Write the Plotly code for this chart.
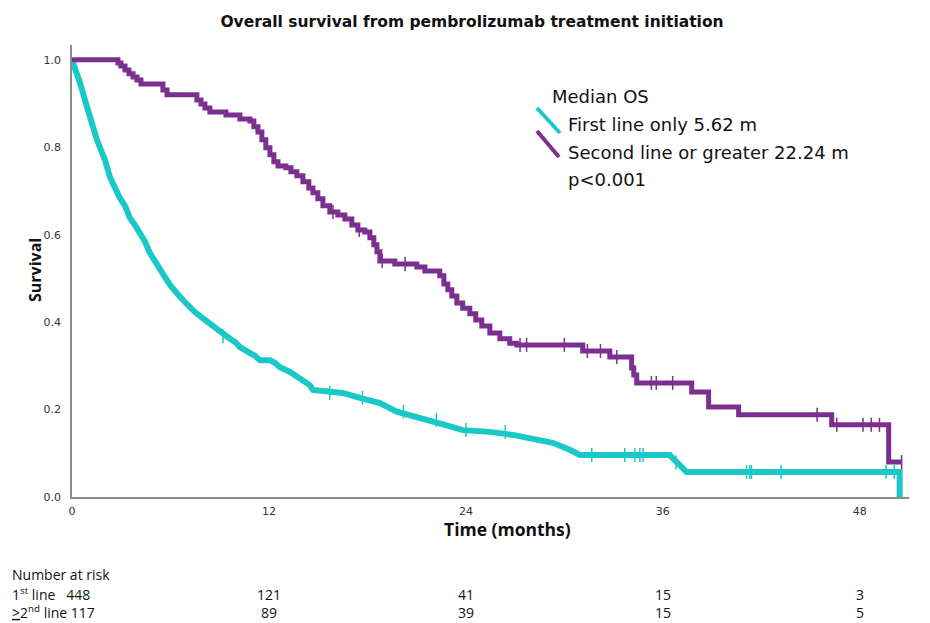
import plotly.graph_objects as go

# ---------------- data ----------------
chart_title = "Overall survival from pembrolizumab treatment initiation"

first_t = [0, 0.24, 0.49, 0.79, 1.10, 1.28, 1.52, 1.71, 2.01, 2.31, 2.62, 2.92, 3.23, 3.53, 3.84,
           4.14, 4.45, 4.75, 5.05, 5.36, 5.66, 5.97, 6.27, 6.58, 6.88, 7.19, 7.49, 7.80, 8.10, 8.40,
           8.71, 9.01, 9.32, 9.62, 9.93, 10.23, 10.54, 10.84, 11.15, 11.45, 12.06, 12.36, 12.67,
           13.28, 13.89, 14.49, 14.68, 16.50, 17.54, 18.76, 19.79, 20.89, 21.80, 22.72, 23.81,
           25.46, 26.86, 28.20, 29.29, 30.33, 30.94, 36.42, 36.72, 37.03, 37.45, 50.43, 50.43]
first_s = [1.0, 0.977, 0.947, 0.908, 0.867, 0.840, 0.817, 0.799, 0.771, 0.732, 0.703, 0.684, 0.666,
           0.638, 0.622, 0.606, 0.584, 0.558, 0.538, 0.519, 0.503, 0.485, 0.469, 0.458, 0.446, 0.432,
           0.423, 0.414, 0.405, 0.396, 0.387, 0.378, 0.368, 0.362, 0.355, 0.343, 0.336, 0.330, 0.323,
           0.313, 0.313, 0.307, 0.297, 0.286, 0.272, 0.256, 0.245, 0.238, 0.227, 0.215, 0.195, 0.185,
           0.176, 0.165, 0.153, 0.149, 0.142, 0.133, 0.124, 0.108, 0.096, 0.096, 0.085, 0.073, 0.057,
           0.057, 0.0]
first_cens_t = [9.2, 15.7, 17.7, 20.2, 22.2, 24.0, 26.4, 31.67, 33.68, 34.3, 34.6, 34.8, 36.8,
                41.1, 41.3, 41.4, 43.2, 49.6, 50.1]
first_cens_s = [0.368, 0.238, 0.227, 0.195, 0.176, 0.153, 0.149, 0.096, 0.096, 0.096, 0.096, 0.096,
                0.079, 0.057, 0.057, 0.057, 0.057, 0.057, 0.057]

second_t = [0, 2.62, 2.80, 2.98, 3.23, 3.47, 3.72, 3.96, 4.20, 5.36, 5.54, 5.79, 7.37, 7.61, 7.86,
            8.10, 8.40, 9.14, 9.38, 9.99, 10.23, 10.84, 11.08, 11.33, 11.57, 11.81, 12.06, 12.30,
            12.55, 13.03, 13.34, 13.70, 14.07, 14.43, 14.68, 14.98, 15.29, 15.71, 16.20, 16.63,
            17.05, 17.42, 17.84, 18.15, 18.39, 18.58, 18.76, 19.67, 21.01, 21.50, 22.41, 22.66,
            22.90, 23.14, 23.45, 23.81, 24.24, 24.60, 24.97, 25.46, 26.07, 26.67, 27.10, 30.94,
            31.12, 32.58, 32.77, 33.98, 34.10, 34.23, 34.41, 37.64, 37.76, 38.67, 38.79, 40.50,
            40.62, 46.16, 46.29, 49.63, 49.76, 50.55]
second_s = [1.0, 1.0, 0.993, 0.986, 0.977, 0.968, 0.961, 0.954, 0.945, 0.945, 0.931, 0.920, 0.920,
            0.908, 0.899, 0.890, 0.881, 0.881, 0.874, 0.874, 0.865, 0.860, 0.847, 0.835, 0.817,
            0.799, 0.783, 0.767, 0.757, 0.753, 0.744, 0.735, 0.721, 0.707, 0.696, 0.682, 0.666,
            0.652, 0.645, 0.636, 0.622, 0.611, 0.606, 0.593, 0.577, 0.561, 0.540, 0.533, 0.526,
            0.517, 0.506, 0.487, 0.474, 0.460, 0.444, 0.432, 0.419, 0.405, 0.391, 0.375, 0.362,
            0.352, 0.348, 0.348, 0.334, 0.334, 0.320, 0.320, 0.295, 0.279, 0.261, 0.261, 0.240,
            0.240, 0.206, 0.206, 0.188, 0.188, 0.165, 0.165, 0.080, 0.080]
second_cens_t = [15.9, 17.5, 18.9, 20.3, 27.3, 27.7, 30.0, 31.4, 32.2, 33.2, 35.3, 35.6, 36.6,
                 45.4, 46.6, 48.2, 48.7, 49.2, 50.55]
second_cens_s = [0.652, 0.611, 0.540, 0.533, 0.348, 0.348, 0.348, 0.334, 0.334, 0.320, 0.261,
                 0.261, 0.261, 0.188, 0.165, 0.165, 0.165, 0.165, 0.080]

x_tick_vals = [0, 12, 24, 36, 48]
y_tick_vals = [0, 0.2, 0.4, 0.6, 0.8, 1.0]
y_tick_text = ["0.0", "0.2", "0.4", "0.6", "0.8", "1.0"]

legend_texts = ["Median OS", "First line only 5.62 m", "Second line or greater 22.24 m", "p&lt;0.001"]

risk_times = [12, 24, 36, 48]
risk_first = [121, 41, 15, 3]
risk_second = [89, 39, 15, 5]
risk_first_start = 448
risk_second_start = 117

CYAN = "#1BC8C8"
PURPLE = "#7C2F8F"

# ---------------- figure ----------------
fig = go.Figure()
fig.add_trace(go.Scatter(x=first_t, y=first_s, mode="lines", line=dict(color=CYAN, width=6, shape="linear"),
                         showlegend=False, hoverinfo="skip"))
fig.add_trace(go.Scatter(x=second_t, y=second_s, mode="lines", line=dict(color=PURPLE, width=5, shape="hv"),
                         showlegend=False, hoverinfo="skip"))
fig.add_trace(go.Scatter(x=first_cens_t, y=first_cens_s, mode="markers",
                         marker=dict(symbol="line-ns", size=10, line=dict(color=CYAN, width=1.5)),
                         showlegend=False, hoverinfo="skip"))
fig.add_trace(go.Scatter(x=second_cens_t, y=second_cens_s, mode="markers",
                         marker=dict(symbol="line-ns", size=10, line=dict(color=PURPLE, width=1.5)),
                         showlegend=False, hoverinfo="skip"))

# the page has an 8px body margin: work in reference pixels, shifted by OFF
OFF = 8
W, H = 930 - OFF, 623 - OFF
L, T = 72 - OFF, 45 - OFF
R = W - (909 - OFF)
B = H - (497 - OFF)
pw, ph = W - L - R, H - T - B


def px(xp):
    return (xp - OFF - L) / pw


def py(yp):
    return (H - B - (yp - OFF)) / ph


fig.update_layout(
    width=W, height=H,
    margin=dict(l=L, r=R, t=T, b=B),
    paper_bgcolor="white", plot_bgcolor="white",
    title=dict(text="<b>" + chart_title + "</b>", x=(472 - OFF) / W, xanchor="center", xref="container",
               y=1 - (22 - OFF) / H, yanchor="middle", yref="container",
               font=dict(family="DejaVu Sans", size=15.5, color="#111")),
    font=dict(family="DejaVu Sans", color="#222"),
    xaxis=dict(range=[0, 51], showgrid=False, zeroline=False, showline=True, linecolor="#8c8c8c",
               linewidth=1.5, tickvals=x_tick_vals, ticks="", ticklabelstandoff=3,
               tickfont=dict(family="DejaVu Sans", size=11, color="#333")),
    yaxis=dict(range=[0, 1.034], showgrid=False, zeroline=False, showline=True, linecolor="#8c8c8c",
               linewidth=1.5, tickvals=y_tick_vals, ticktext=y_tick_text, ticks="", ticklabelstandoff=7,
               tickfont=dict(family="DejaVu Sans", size=11, color="#333")),
)

ann = []
# axis titles
ann.append(dict(text="<b>Survival</b>", x=px(22), y=py(270), xref="paper", yref="paper", textangle=-90,
                showarrow=False, font=dict(family="Open Sans", size=16, color="#111")))
ann.append(dict(text="<b>Time (months)</b>", x=px(508), y=py(543), xref="paper", yref="paper",
                showarrow=False, font=dict(family="Open Sans", size=17.5, color="#111")))
# legend text
leg_y = [97, 124, 152, 180]
leg_x = [550, 566, 566, 566]
for t, xx, yy in zip(legend_texts, leg_x, leg_y):
    ann.append(dict(text=t, x=px(xx), y=py(yy), xref="paper", yref="paper", xanchor="left",
                    yanchor="middle", showarrow=False, font=dict(family="DejaVu Sans", size=18, color="#111")))
# risk table
row_y = [574, 594, 612]
tfont = dict(family="Open Sans", size=14, color="#111")
common = dict(xanchor="left", yanchor="middle", showarrow=False, font=tfont, borderpad=0)
ann.append(dict(text="Number at risk", x=px(11), y=py(row_y[0]), xref="paper", yref="paper", **common))
ann.append(dict(text="1<sup>st</sup> line&nbsp;&nbsp;&nbsp;" + str(risk_first_start), x=px(11), y=py(row_y[1]),
                xref="paper", yref="paper", **common))
ann.append(dict(text="<u>&gt;</u>2<sup>nd</sup> line " + str(risk_second_start), x=px(11), y=py(row_y[2]),
                xref="paper", yref="paper", **common))
for t, a, b in zip(risk_times, risk_first, risk_second):
    ann.append(dict(text=str(a), x=t, y=py(row_y[1]), xref="x", yref="paper", xanchor="center",
                    yanchor="middle", showarrow=False, font=tfont, borderpad=0))
    ann.append(dict(text=str(b), x=t, y=py(row_y[2]), xref="x", yref="paper", xanchor="center",
                    yanchor="middle", showarrow=False, font=tfont, borderpad=0))
fig.update_layout(annotations=ann)

# legend swatches (diagonal strokes)
fig.add_shape(type="line", xref="paper", yref="paper", x0=px(537), y0=py(108), x1=px(560), y1=py(133),
              line=dict(color=CYAN, width=4))
fig.add_shape(type="line", xref="paper", yref="paper", x0=px(537), y0=py(131), x1=px(559), y1=py(157),
              line=dict(color=PURPLE, width=4))

fig.write_html("out.html")
